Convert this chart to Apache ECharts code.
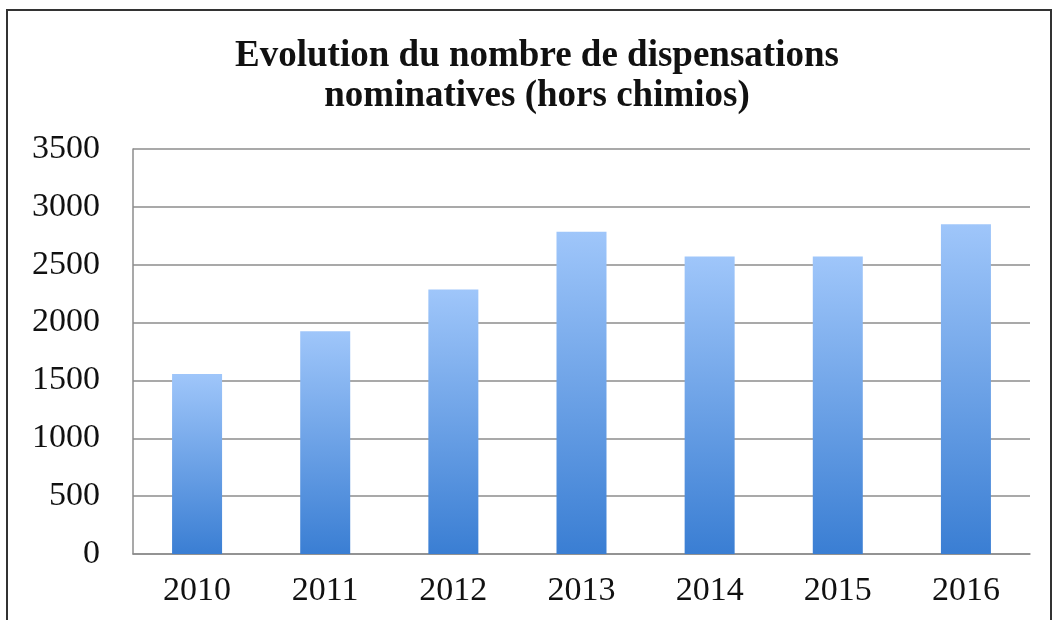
<!DOCTYPE html>
<html>
<head>
<meta charset="utf-8">
<script src="https://cdn.jsdelivr.net/npm/echarts@6/dist/echarts.min.js"></script>
<style>
html,body{margin:0;padding:0;background:#fff;}
#chart{width:1056px;height:620px;}
</style>
</head>
<body>
<div id="chart"></div>
<script>
const titleText = "Evolution du nombre de dispensations\nnominatives (hors chimios)";
const categories = ["2010", "2011", "2012", "2013", "2014", "2015", "2016"];
const values = [1555, 1925, 2285, 2785, 2570, 2570, 2850];
const yTicks = [0, 500, 1000, 1500, 2000, 2500, 3000, 3500];

const chart = echarts.init(document.getElementById('chart'), null, {renderer: 'canvas'});
const serif = '"Liberation Serif", "Times New Roman", serif';
chart.setOption({
  animation: false,
  backgroundColor: '#ffffff',
  graphic: [{
    type: 'rect',
    shape: {x: 7, y: 10, width: 1044, height: 640},
    style: {fill: 'none', stroke: '#333333', lineWidth: 2},
    silent: true
  }],
  title: {
    text: titleText,
    left: 532,
    top: 31,
    textAlign: 'center',
    textStyle: {fontFamily: serif, fontWeight: 'bold', fontSize: 37, lineHeight: 40, color: '#111111'}
  },
  grid: {left: 133, right: 26, top: 149, bottom: 66, containLabel: false},
  xAxis: {
    type: 'category',
    data: categories,
    axisLine: {show: true, lineStyle: {color: '#8c8c8c', width: 1.5}},
    axisTick: {show: false},
    axisLabel: {fontFamily: serif, fontSize: 34, color: '#111111', margin: 20}
  },
  yAxis: {
    type: 'value',
    min: yTicks[0],
    max: yTicks[yTicks.length - 1],
    interval: 500,
    axisLine: {show: true, lineStyle: {color: '#8c8c8c', width: 1.5}},
    axisTick: {show: false},
    splitLine: {show: true, lineStyle: {color: '#8c8c8c', width: 1.5}},
    axisLabel: {fontFamily: serif, fontSize: 34, color: '#111111', margin: 33, formatter: function (v) { return String(v); }}
  },
  series: [{
    type: 'bar',
    data: values,
    barWidth: 50,
    itemStyle: {
      color: new echarts.graphic.LinearGradient(0, 0, 0, 1, [
        {offset: 0, color: '#9fc6fa'},
        {offset: 1, color: '#3a7ed3'}
      ])
    }
  }]
});
</script>
</body>
</html>
